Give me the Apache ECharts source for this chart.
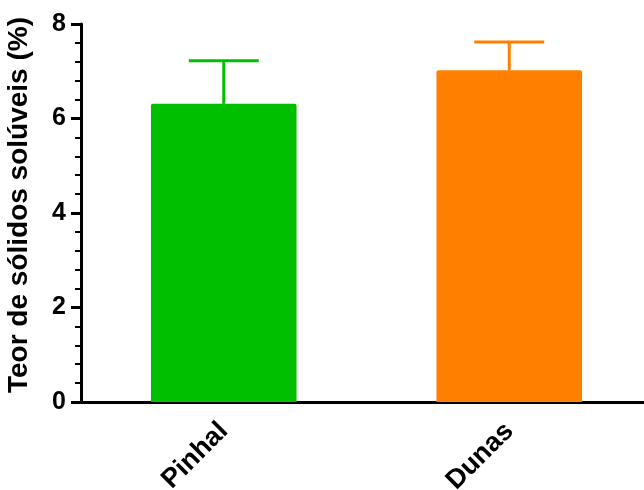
<!DOCTYPE html>
<html>
<head>
<meta charset="utf-8">
<script src="https://cdn.jsdelivr.net/npm/echarts@6/dist/echarts.min.js"></script>
<style>
html,body{margin:0;padding:0;background:#fff;}
#chart{width:644px;height:490px;}
</style>
</head>
<body>
<div id="chart"></div>
<script>
const categories = ['Pinhal', 'Dunas'];
const means = [6.31, 7.02];
const errors = [0.91, 0.60];
const colors = ['#00BF00', '#FF8000'];
const yTicks = [0, 2, 4, 6, 8];

const chart = echarts.init(document.getElementById('chart'));
const FONT = '"Liberation Sans", Arial, sans-serif';

chart.setOption({
  animation: false,
  grid: { left: 81, right: -8, top: 24, bottom: 88, containLabel: false, outerBoundsMode: 'none' },
  xAxis: {
    type: 'category',
    data: categories,
    axisLine: { lineStyle: { color: '#000', width: 3 } },
    axisTick: { alignWithLabel: true, length: 10, lineStyle: { color: '#000', width: 3 } },
    axisLabel: { rotate: 45, color: '#000', fontWeight: 'bold', fontSize: 27, fontFamily: FONT, margin: 25 }
  },
  yAxis: {
    type: 'value',
    min: yTicks[0],
    max: yTicks[yTicks.length - 1],
    interval: 2,
    name: 'Teor de sólidos solúveis (%)',
    nameLocation: 'middle',
    nameGap: 48,
    nameTextStyle: { color: '#000', fontWeight: 'bold', fontSize: 28, fontFamily: FONT, padding: [0, 0, 0, 16] },
    axisLine: { show: true, lineStyle: { color: '#000', width: 3 } },
    axisTick: { show: true, length: 10, lineStyle: { color: '#000', width: 3 } },
    minorTick: { show: true, splitNumber: 5, length: 6, lineStyle: { color: '#000', width: 2 } },
    splitLine: { show: false },
    axisLabel: { color: '#000', fontWeight: 'bold', fontSize: 25, fontFamily: FONT, margin: 15 }
  },
  series: [
    {
      type: 'bar',
      barWidth: '51%',
      data: means.map((v, i) => ({ value: v, itemStyle: { color: colors[i], borderRadius: [2, 2, 0, 0] } })),
      z: 2
    },
    {
      type: 'custom',
      z: 1,
      data: means.map((v, i) => [i, v, v + errors[i]]),
      renderItem: function (params, api) {
        const i = api.value(0);
        const base = api.coord([i, api.value(1)]);
        const top = api.coord([i, api.value(2)]);
        const half = 35;
        const style = { stroke: colors[i], lineWidth: 3, fill: null };
        return {
          type: 'group',
          children: [
            { type: 'line', shape: { x1: top[0], y1: base[1], x2: top[0], y2: top[1] }, style: style },
            { type: 'line', shape: { x1: top[0] - half, y1: top[1], x2: top[0] + half, y2: top[1] }, style: style }
          ]
        };
      }
    }
  ]
});
</script>
</body>
</html>
